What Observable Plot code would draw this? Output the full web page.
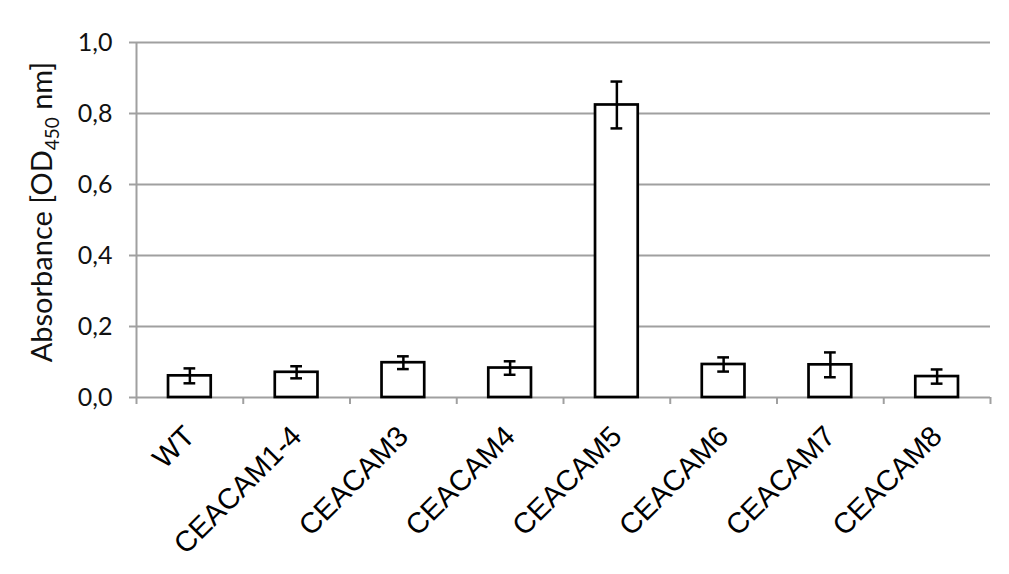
<!DOCTYPE html>
<html>
<head>
<meta charset="utf-8">
<script src="https://cdn.jsdelivr.net/npm/d3@7"></script>
<script src="https://cdn.jsdelivr.net/npm/@observablehq/plot@0.6"></script>
<style>
  html, body { margin: 0; padding: 0; background: #fff; }
  #chart svg { display: block; }
</style>
</head>
<body>
<div id="chart"></div>
<script>
const categories = ["WT", "CEACAM1-4", "CEACAM3", "CEACAM4", "CEACAM5", "CEACAM6", "CEACAM7", "CEACAM8"];
const means  = [0.061, 0.071, 0.098, 0.083, 0.824, 0.093, 0.092, 0.059];
const errors = [0.021, 0.017, 0.018, 0.019, 0.066, 0.020, 0.035, 0.020];
const yTicks = [0, 0.2, 0.4, 0.6, 0.8, 1.0];

const data = categories.map((c, i) => ({i, category: c, mean: means[i], err: errors[i]}));
const n = categories.length;
const gray = "#a0a0a0";
const yFont = "Lato, 'Open Sans', sans-serif";
const xFont = "'Liberation Sans', Arial, sans-serif";

const plot = Plot.plot({
  width: 1009,
  height: 574,
  marginTop: 42,
  marginBottom: 177,
  marginLeft: 136,
  marginRight: 19,
  x: {domain: [0, n]},
  y: {domain: [0, 1]},
  marks: [
    Plot.gridY(yTicks.slice(1), {stroke: gray, strokeOpacity: 1, strokeWidth: 2}),
    Plot.ruleX([0], {stroke: gray, strokeWidth: 2}),
    Plot.ruleY([0], {stroke: gray, strokeWidth: 2}),
    Plot.axisY({
      ticks: yTicks, tickSize: 7, tickPadding: 17, stroke: gray, strokeWidth: 2,
      tickFormat: d => d.toFixed(1).replace(".", ","),
      fontSize: 25, fontFamily: yFont, fill: "#111", label: null
    }),
    Plot.axisX({
      ticks: d3.range(n + 1), tickSize: 7, tickFormat: () => "",
      stroke: gray, strokeWidth: 2, label: null
    }),
    Plot.axisX({
      ticks: d3.range(n).map(i => i + 0.5), tickSize: 0, tickPadding: 34,
      tickRotate: -45, tickFormat: d => categories[Math.floor(d)],
      fontSize: 29, fontFamily: xFont, fill: "#000", label: null
    }),
    Plot.rectY(data, {x1: d => d.i + 0.3, x2: d => d.i + 0.7, y: "mean",
      fill: "white", stroke: "black", strokeWidth: 2.7}),
    Plot.ruleX(data, {x: d => d.i + 0.5, y1: d => d.mean - d.err, y2: d => d.mean + d.err,
      stroke: "black", strokeWidth: 2.5}),
    Plot.ruleY(data, {y: d => d.mean + d.err, x1: d => d.i + 0.445, x2: d => d.i + 0.555,
      stroke: "black", strokeWidth: 2.5}),
    Plot.ruleY(data, {y: d => d.mean - d.err, x1: d => d.i + 0.445, x2: d => d.i + 0.555,
      stroke: "black", strokeWidth: 2.5})
  ]
});

// y-axis title with subscript
const svg = d3.select(plot);
const t = svg.append("text")
  .attr("transform", "translate(52,212) rotate(-90)")
  .attr("text-anchor", "middle")
  .attr("font-family", yFont)
  .attr("font-size", 29)
  .attr("fill", "#111");
t.append("tspan").text("Absorbance [OD");
t.append("tspan").attr("font-size", 19).attr("dy", 7).text("450");
t.append("tspan").attr("dy", -7).text(" nm]");

document.getElementById("chart").appendChild(plot);
</script>
</body>
</html>
